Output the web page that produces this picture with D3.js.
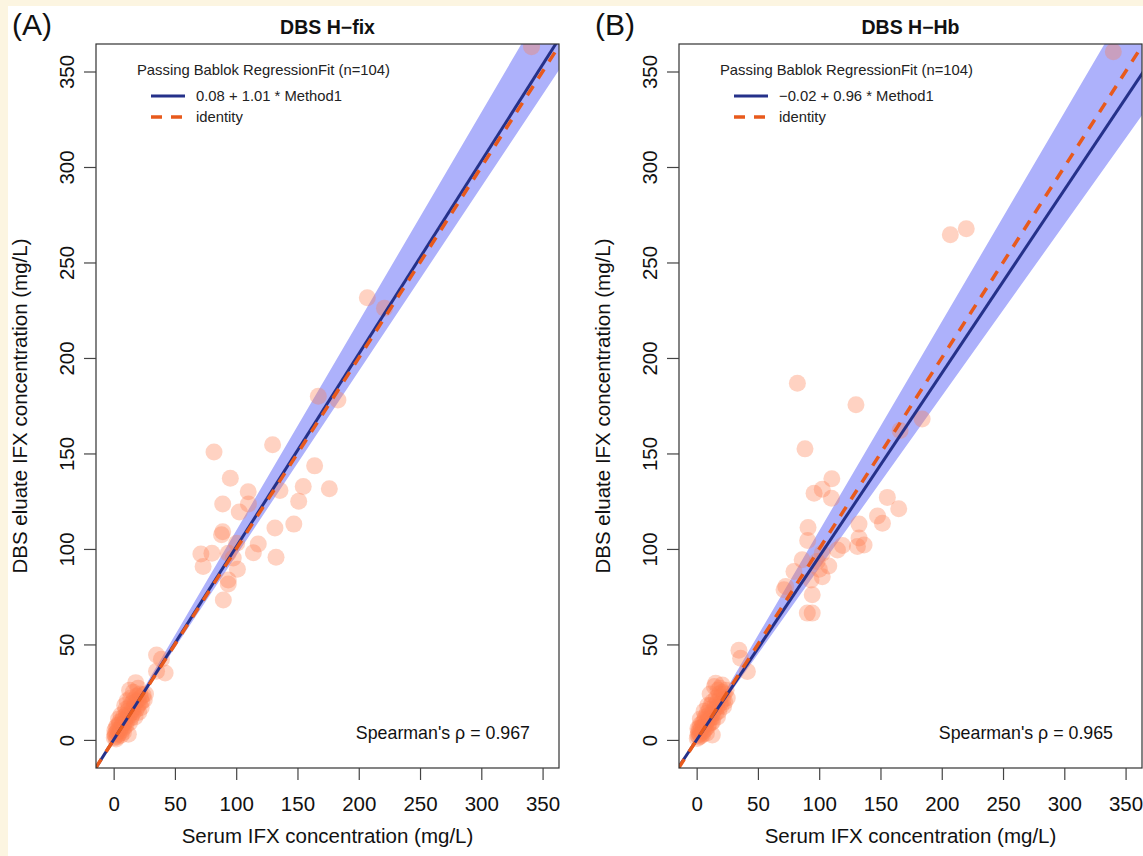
<!DOCTYPE html>
<html>
<head>
<meta charset="utf-8">
<script src="https://cdn.jsdelivr.net/npm/d3@7"></script>
<style>
  body { margin: 0; background: #fcf5e1; }
  svg { display: block; font-family: "Liberation Sans", Arial, sans-serif; }
</style>
</head>
<body>
<svg id="chart" width="1143" height="856"></svg>
<script>
// ---- data ----
const xTicks = [0, 50, 100, 150, 200, 250, 300, 350];
const yTicks = [0, 50, 100, 150, 200, 250, 300, 350];

// panel A: serum vs DBS H-fix
const serumA = [341, 207, 221, 167, 183, 164, 81.9, 129.7, 95.2, 109.8, 89, 102.5, 110, 135.7, 154.7, 151, 147, 89, 88, 131.6,
  100.4, 118, 71.2, 80.2, 93.5, 114, 73, 97.6, 101, 132.5, 93.5, 93.5, 89.5, 176, 35, 39, 35, 42,
  0.5, 1, 1.5, 2, 2.5, 3, 3, 3.5, 4, 4.5, 5, 5, 5.5, 6, 6.5, 7, 7, 7.5, 8, 8.5, 9, 9, 9.5, 10, 10.5, 11, 11.5, 12, 12, 12.5,
  13, 13.5, 14, 14.5, 15, 15.5, 16, 16, 16.5, 17, 17.5, 18, 18, 18.5, 19, 19.5, 20, 20.5, 21, 21.5, 22, 22.5, 23, 24, 25,
  2, 1, 4, 6, 8, 10, 11, 13, 14, 20, 26];
const dbsA = [363, 231.5, 226, 180, 178, 143.5, 150.8, 154.5, 137, 130, 123.5, 119.4, 123.5, 130.6, 132.7, 125, 113, 109, 107.4, 111,
  103, 102.6, 97.3, 97.8, 97.8, 98, 90.8, 95.2, 89.4, 95.7, 83.8, 81.7, 73.3, 131.5, 44.5, 42.3, 36, 35,
  1.2, 3, 2, 6.5, 4, 1.5, 7.5, 5, 3, 8, 4.5, 9.5, 6, 2.5, 7, 10, 5, 8.5, 12, 6.5, 18, 9, 11, 7.5, 13, 10, 15, 3, 12.5, 17,
  9, 14, 11.5, 19, 13, 16, 25, 14.5, 21, 18, 12, 30, 20, 16, 23, 17.5, 21, 14.5, 19, 24, 22, 17, 20, 23.5, 21,
  0.5, 5, 11, 13, 4, 16, 20.5, 26, 22, 27, 24];

// panel B: serum vs DBS H-Hb
const serumB = [340, 207, 220, 82.2, 130, 88.4, 110.3, 102.5, 95.8, 110, 155.6, 164.9, 147.6, 151.6, 132.5, 90.9, 90.6, 132.5, 136.6, 131.2,
  119, 114.9, 102.5, 86.1, 98.3, 107.8, 79.4, 100.1, 93.3, 102.5, 72.7, 71.3, 94.3, 90.3, 94.3, 184, 166, 34.5, 35.9, 41.4,
  0.5, 1, 1.5, 2, 2, 2.5, 3, 3, 3.5, 4, 4.5, 5, 5, 5.5, 6, 6.5, 7, 7, 7.5, 8, 8.5, 9, 9.5, 10, 10, 10.5, 11, 11.5, 12, 12.8,
  12.5, 13, 13.5, 14, 14.5, 15, 15.5, 15.5, 16, 16.5, 17, 17.5, 18, 18.5, 19, 19.5, 20, 20.9, 21, 21.5, 22, 22.5, 23, 24, 25,
  1, 3, 6, 8, 9, 11, 13, 17, 19];
const dbsB = [360.4, 264.5, 267.7, 186.8, 175.5, 152.4, 136.7, 131.3, 129.2, 126.6, 127, 121, 117.3, 113.5, 113, 111.2, 104.4, 105.7, 102.1, 101.3,
  101.8, 99.5, 97.8, 94.3, 93.4, 91.1, 88.2, 89.4, 83.8, 85.5, 80.3, 78.6, 76, 66.4, 66.4, 168, 162, 47, 42.8, 35.8,
  0.8, 2.5, 4, 1.5, 6, 3, 5, 8, 2, 6.5, 4, 9, 3, 7, 5, 10.5, 8, 12, 6, 9.5, 14, 7, 11, 13, 8.5, 16, 11, 18, 9, 2.6,
  13.5, 20, 12, 15.5, 28, 18, 29.7, 14, 22, 17, 20, 26, 15, 24, 19, 22.5, 18, 28.8, 25, 21, 17.5, 24, 20, 26, 22,
  6, 11, 15, 3.5, 18, 24, 9.5, 12, 27];

// regression fit and CI band slopes
const fitA = { intercept: 0.08, slope: 1.01, bandLo: 0.965, bandHi: 1.095 };
const fitB = { intercept: -0.02, slope: 0.96, bandLo: 0.90, bandHi: 1.095 };

const panels = [
  { tag: "(A)", title: "DBS H\u2212fix", left: 96, right: 559, serum: serumA, dbs: dbsA, fit: fitA,
    fitLabel: "0.08 + 1.01 * Method1", rho: "Spearman's \u03c1 = 0.967", tagX: 12 },
  { tag: "(B)", title: "DBS H\u2212Hb", left: 679, right: 1142, serum: serumB, dbs: dbsB, fit: fitB,
    fitLabel: "\u22120.02 + 0.96 * Method1", rho: "Spearman's \u03c1 = 0.965", tagX: 595 }
];

const svg = d3.select("#chart");
svg.append("rect").attr("x", 8).attr("y", 6).attr("width", 1143).attr("height", 856).attr("fill", "#fff");

const plotTop = 44, plotBottom = 768;
const navy = "#25318a", orange = "#e85a1c";

panels.forEach(function(p, i) {
  const x = d3.scaleLinear().domain([-14.4, 363.4]).range([p.left, p.right]);
  const y = d3.scaleLinear().domain([-14.7, 364.4]).range([plotBottom, plotTop]);
  const g = svg.append("g");

  svg.append("clipPath").attr("id", "clip" + i)
    .append("rect").attr("x", p.left).attr("y", plotTop)
    .attr("width", p.right - p.left).attr("height", plotBottom - plotTop);

  const plot = g.append("g").attr("clip-path", "url(#clip" + i + ")");
  const x0 = -15, x1 = 370;

  // confidence band
  const band = [[x0, p.fit.intercept + p.fit.bandLo * x0], [x1, p.fit.intercept + p.fit.bandLo * x1],
                [x1, p.fit.intercept + p.fit.bandHi * x1], [x0, p.fit.intercept + p.fit.bandHi * x0]];
  plot.append("path")
    .attr("d", "M" + band.map(function(d) { return [x(d[0]), y(d[1])]; }).join("L") + "Z")
    .attr("fill", "#adb1fb");

  // points
  plot.append("g").selectAll("circle")
    .data(p.serum.map(function(v, k) { return [v, p.dbs[k]]; }))
    .enter().append("circle")
    .attr("cx", function(d) { return x(d[0]); })
    .attr("cy", function(d) { return y(d[1]); })
    .attr("r", 8.5)
    .attr("fill", "#ff7f50")
    .attr("fill-opacity", 0.35);

  // fit line and identity
  plot.append("line")
    .attr("x1", x(x0)).attr("y1", y(p.fit.intercept + p.fit.slope * x0))
    .attr("x2", x(x1)).attr("y2", y(p.fit.intercept + p.fit.slope * x1))
    .attr("stroke", navy).attr("stroke-width", 3);
  plot.append("line")
    .attr("x1", x(x0)).attr("y1", y(x0))
    .attr("x2", x(x1)).attr("y2", y(x1))
    .attr("stroke", orange).attr("stroke-width", 3.5)
    .attr("stroke-dasharray", "11,9");

  // box
  g.append("rect").attr("x", p.left).attr("y", plotTop)
    .attr("width", p.right - p.left).attr("height", plotBottom - plotTop)
    .attr("fill", "none").attr("stroke", "#333").attr("stroke-width", 1.2);

  // axes
  const xa = g.append("g").attr("transform", "translate(0," + plotBottom + ")")
    .call(d3.axisBottom(x).tickValues(xTicks).tickSize(12).tickPadding(16));
  const ya = g.append("g").attr("transform", "translate(" + p.left + ",0)")
    .call(d3.axisLeft(y).tickValues(yTicks).tickSize(12));
  [xa, ya].forEach(function(a) {
    a.select(".domain").remove();
    a.selectAll("line").attr("stroke", "#444").attr("stroke-width", 1.2);
    a.selectAll("text").attr("font-size", 20.5).attr("fill", "#111")
      .attr("font-family", "Liberation Sans, Arial, sans-serif");
  });
  ya.selectAll("text")
    .attr("x", null).attr("dy", "0.35em")
    .attr("text-anchor", "middle")
    .attr("transform", "translate(-29,0) rotate(-90)");

  // axis titles
  g.append("text").attr("x", (p.left + p.right) / 2).attr("y", 843)
    .attr("text-anchor", "middle").attr("font-size", 20.5).attr("fill", "#111")
    .text("Serum IFX concentration (mg/L)");
  g.append("text").attr("transform", "translate(" + (p.left - 69) + "," + (plotTop + plotBottom) / 2 + ") rotate(-90)")
    .attr("text-anchor", "middle").attr("font-size", 20.5).attr("fill", "#111")
    .text("DBS eluate IFX concentration (mg/L)");

  // panel tag and title
  g.append("text").attr("x", p.tagX).attr("y", 35).attr("font-size", 30).attr("fill", "#111").text(p.tag);
  g.append("text").attr("x", (p.left + p.right) / 2).attr("y", 34)
    .attr("text-anchor", "middle").attr("font-size", 19.5).attr("font-weight", "bold").attr("fill", "#111")
    .text(p.title);

  // legend
  const lx = p.left + 41;
  g.append("text").attr("x", lx).attr("y", 75).attr("font-size", 14.8).attr("fill", "#222")
    .text("Passing Bablok RegressionFit (n=104)");
  g.append("line").attr("x1", lx + 14).attr("x2", lx + 48).attr("y1", 96).attr("y2", 96)
    .attr("stroke", navy).attr("stroke-width", 3);
  g.append("line").attr("x1", lx + 14).attr("x2", lx + 48).attr("y1", 117).attr("y2", 117)
    .attr("stroke", orange).attr("stroke-width", 3.5).attr("stroke-dasharray", "11,9");
  g.append("text").attr("x", lx + 59).attr("y", 101).attr("font-size", 14.8).attr("fill", "#222").text(p.fitLabel);
  g.append("text").attr("x", lx + 59).attr("y", 122).attr("font-size", 14.8).attr("fill", "#222").text("identity");

  // Spearman
  g.append("text").attr("x", p.right - 29).attr("y", 739).attr("text-anchor", "end")
    .attr("font-size", 17.8).attr("fill", "#111").text(p.rho);
});
</script>
</body>
</html>
